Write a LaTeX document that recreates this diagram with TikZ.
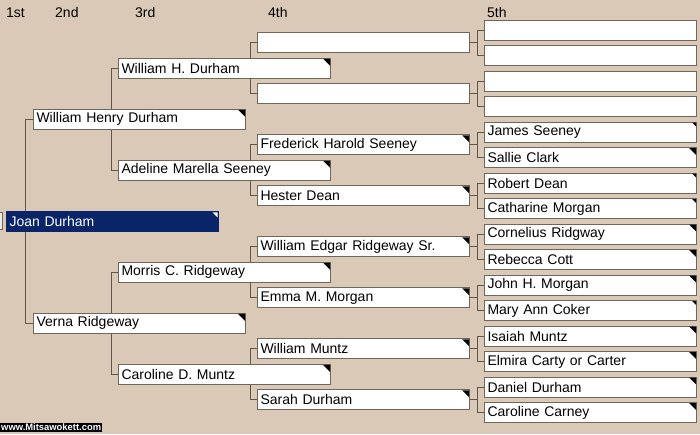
\documentclass[tikz,border=0pt]{standalone}
\usepackage{fontspec}
\setmainfont{Liberation Sans}
\pgfdeclarelayer{bg}
\pgfdeclarelayer{lines}
\pgfsetlayers{bg,lines,main}
\definecolor{tanbg}{RGB}{217,201,182}
\definecolor{conncol}{RGB}{98,86,74}
\definecolor{boxcol}{RGB}{112,102,92}
\definecolor{navybox}{RGB}{10,36,106}
\tikzset{
  namebox/.style={draw=boxcol, line width=1pt, fill=white, anchor=west,
    minimum width=212pt, minimum height=20pt, text width=206pt,
    inner xsep=3pt, inner ysep=0pt, align=left,
    font=\fontsize{14}{16}\selectfont},
  rootbox/.style={namebox, fill=navybox, draw=navybox, text=white},
  conn/.style={draw=conncol, line width=0.9pt},
  hdr/.style={anchor=west, inner sep=0pt, font=\fontsize{14}{16}\selectfont},
}
\newcommand\bigtri[1]{\fill[black] ([shift={(-1pt,-1pt)}]#1.north east) -- ++(-7pt,0pt) -- ++(7pt,-7pt) -- cycle;}
\newcommand\smalltri[1]{\fill[black] ([shift={(-1pt,-1pt)}]#1.north east) -- ++(-4pt,0pt) -- ++(4pt,-4pt) -- cycle;}
\begin{document}
\begin{tikzpicture}[x=1pt,y=-1pt]
\useasboundingbox (0,0) rectangle (700,434);
\begin{pgfonlayer}{bg}
\fill[tanbg] (0,0) rectangle (700,434);
\end{pgfonlayer}

% headers
\node[hdr] (h1) at (6,12.5) {1st};
\node[hdr] (h2) at (55,12.5) {2nd};
\node[hdr] (h3) at (135,12.5) {3rd};
\node[hdr] (h4) at (268,12.5) {4th};
\node[hdr] (h5) at (487,12.5) {5th};

% generation 1
\node[rootbox] (p1) at (6,221.25) {Joan Durham};
% generation 2
\node[namebox] (p2a) at (33,119.25) {William Henry Durham};
\node[namebox] (p2b) at (33,323.25) {Verna Ridgeway};
% generation 3
\node[namebox] (p3a) at (118,68.25) {William H. Durham};
\node[namebox] (p3b) at (118,170.25) {Adeline Marella Seeney};
\node[namebox] (p3c) at (118,272.25) {Morris C. Ridgeway};
\node[namebox] (p3d) at (118,374.25) {Caroline D. Muntz};
% generation 4
\node[namebox] (p4a) at (257,42.75) {};
\node[namebox] (p4b) at (257,93.75) {};
\node[namebox] (p4c) at (257,144.75) {Frederick Harold Seeney};
\node[namebox] (p4d) at (257,195.75) {Hester Dean};
\node[namebox] (p4e) at (257,246.75) {William Edgar Ridgeway Sr.};
\node[namebox] (p4f) at (257,297.75) {Emma M. Morgan};
\node[namebox] (p4g) at (257,348.75) {William Muntz};
\node[namebox] (p4h) at (257,399.75) {Sarah Durham};
% generation 5
\node[namebox] (p5a) at (484,30) {};
\node[namebox] (p5b) at (484,55.5) {};
\node[namebox] (p5c) at (484,81) {};
\node[namebox] (p5d) at (484,106.5) {};
\node[namebox] (p5e) at (484,132) {James Seeney};
\node[namebox] (p5f) at (484,157.5) {Sallie Clark};
\node[namebox] (p5g) at (484,183) {Robert Dean};
\node[namebox] (p5h) at (484,208.5) {Catharine Morgan};
\node[namebox] (p5i) at (484,234) {Cornelius Ridgway};
\node[namebox] (p5j) at (484,259.5) {Rebecca Cott};
\node[namebox] (p5k) at (484,285) {John H. Morgan};
\node[namebox] (p5l) at (484,310.5) {Mary Ann Coker};
\node[namebox] (p5m) at (484,336) {Isaiah Muntz};
\node[namebox] (p5n) at (484,361.5) {Elmira Carty or Carter};
\node[namebox] (p5o) at (484,387) {Daniel Durham};
\node[namebox] (p5p) at (484,412.5) {Caroline Carney};

% connectors
\begin{pgfonlayer}{lines}
\draw[conn] (p2a.west) -- ++(-7.5pt,0pt) |- (p2b.west);
\draw[conn] (p3a.west) -- ++(-7pt,0pt) |- (p3b.west);
\draw[conn] (p3c.west) -- ++(-7pt,0pt) |- (p3d.west);
\draw[conn] (p4a.west) -- ++(-7pt,0pt) |- (p4b.west);
\draw[conn] (p4c.west) -- ++(-7pt,0pt) |- (p4d.west);
\draw[conn] (p4e.west) -- ++(-7pt,0pt) |- (p4f.west);
\draw[conn] (p4g.west) -- ++(-7pt,0pt) |- (p4h.west);
\foreach \a/\b/\c in {p4a/p5a/p5b,p4b/p5c/p5d,p4c/p5e/p5f,p4d/p5g/p5h,p4e/p5i/p5j,p4f/p5k/p5l,p4g/p5m/p5n,p4h/p5o/p5p}{
  \draw[conn] (\a.east) -- ++(8pt,0pt);
  \draw[conn] (\b.west) -- ++(-7pt,0pt) |- (\c.west);
}
\end{pgfonlayer}

% corner marks
\fill[white] ([shift={(-1.5pt,-1.5pt)}]p1.north east) -- ++(-5pt,0pt) -- ++(5pt,-5pt) -- cycle;
\foreach \n in {p2a,p2b,p3a,p3b,p3c,p3d,p4c,p4d,p4e,p4f,p4g,p4h,p5f,p5i,p5j,p5k,p5m,p5n,p5o,p5p}{\bigtri{\n}}
\foreach \n in {p5e,p5g,p5h,p5l}{\smalltri{\n}}

% left edge stub
\fill[white!92!black, draw=boxcol] (-3,212.5) rectangle (2.5,229.5);

% watermark
\fill[black] (0,422.5) rectangle (102,432);
\node[anchor=west, inner sep=0pt, text=white, font=\bfseries\fontsize{9.4}{10}\selectfont] (wm) at (1,427.3) {www.Mitsawokett.com};
\end{tikzpicture}
\end{document}
